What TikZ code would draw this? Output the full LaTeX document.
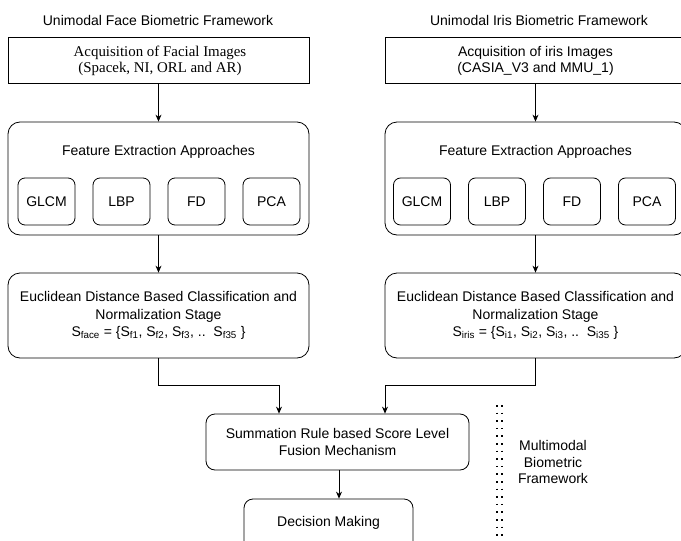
\documentclass[tikz,border=0pt]{standalone}
\usepackage{fontspec}
\setmainfont{Liberation Sans}
\newfontfamily\seriffont{Liberation Serif}
\usetikzlibrary{arrows.meta}
\begin{document}
\begin{tikzpicture}[x=1pt,y=-1pt,
  every node/.style={font=\fontsize{14}{16.5}\selectfont, inner sep=0pt},
  box/.style={draw, line width=0.8pt, rectangle},
  rbox/.style={draw, line width=0.8pt, rounded corners=12pt},
  sbox/.style={draw, line width=0.8pt, rounded corners=7pt, minimum width=57pt, minimum height=47pt},
  lbl/.style={align=center},
  arr/.style={line width=0.8pt, -{Stealth[length=7pt,width=6pt]}},
  dots/.style={line width=1.5pt, dash pattern=on 1.6pt off 6pt}
]
\useasboundingbox (0,0) rectangle (681,541);

% titles
\node[lbl] (ftitle) at (158,20) {Unimodal Face Biometric Framework};
\node[lbl] (ititle) at (539,20) {Unimodal Iris Biometric Framework};

% face column
\node[box, minimum width=301pt, minimum height=46pt] (facq) at (158.5,60) {};
\node[lbl, font=\seriffont\fontsize{14.9}{16}\selectfont] (facqt) at (160,61) {Acquisition of Facial Images\\(Spacek, NI, ORL and AR)};
\node[rbox, minimum width=301pt, minimum height=113pt] (ffeat) at (158.5,178.5) {};
\node[lbl] (ffeatt) at (158.5,152) {Feature Extraction Approaches};
\node[sbox] (fg) at (46.5,201.5) {GLCM};
\node[sbox] (fl) at (121.5,201.5) {LBP};
\node[sbox] (ff) at (196.5,201.5) {FD};
\node[sbox] (fp) at (271.5,201.5) {PCA};
\node[rbox, minimum width=301pt, minimum height=85pt] (feuc) at (158.5,315.5) {};
\node[lbl, font=\fontsize{14}{17.5}\selectfont] (feuct) at (158.5,315.5) {Euclidean Distance Based Classification and\\Normalization Stage\\S\textsubscript{face} = \{S\textsubscript{f1}, S\textsubscript{f2}, S\textsubscript{f3}, ..\ \ S\textsubscript{f35} \}};

% iris column
\node[box, minimum width=301pt, minimum height=46pt] (iacq) at (535.5,60) {};
\node[lbl, font=\fontsize{14}{16.5}\selectfont] (iacqt) at (535.5,61) {Acquisition of iris Images\\(CASIA\_V3 and MMU\_1)};
\node[rbox, minimum width=301pt, minimum height=113pt] (ifeat) at (535.5,178.5) {};
\node[lbl] (ifeatt) at (535.5,152) {Feature Extraction Approaches};
\node[sbox] (ig) at (422,201.5) {GLCM};
\node[sbox] (il) at (497,201.5) {LBP};
\node[sbox] (if) at (572,201.5) {FD};
\node[sbox] (ip) at (647,201.5) {PCA};
\node[rbox, minimum width=301pt, minimum height=85pt] (ieuc) at (535.5,315.5) {};
\node[lbl, font=\fontsize{14}{17.5}\selectfont] (ieuct) at (535.5,315.5) {Euclidean Distance Based Classification and\\Normalization Stage\\S\textsubscript{iris} = \{S\textsubscript{i1}, S\textsubscript{i2}, S\textsubscript{i3}, ..\ \ S\textsubscript{i35} \}};

% fusion
\node[rbox, rounded corners=9pt, minimum width=263pt, minimum height=56pt, lbl, font=\fontsize{14}{16.5}\selectfont] (sum) at (337.5,442) {Summation Rule based Score Level\\Fusion Mechanism};
\node[rbox, rounded corners=9pt, minimum width=169pt, minimum height=60pt] (dec) at (328.5,529) {};
\node[lbl] (dect) at (328.5,523) {Decision Making};

% multimodal
\draw[dots] (497,405) -- (497,541);
\draw[dots] (502,405) -- (502,541);
\node[lbl, font=\fontsize{14}{16.5}\selectfont] (mm) at (553,462) {Multimodal\\Biometric\\Framework};

% connectors
\draw[arr] (facq.south) -- (ffeat.north);
\draw[arr] (ffeat.south) -- (feuc.north);
\draw[arr] (iacq.south) -- (ifeat.north);
\draw[arr] (ifeat.south) -- (ieuc.north);
\coordinate (fj) at (279,385);
\coordinate (ij) at (385,385);
\draw[arr] (feuc.south) |- (fj) -- (fj |- sum.north);
\draw[arr] (ieuc.south) |- (ij) -- (ij |- sum.north);
\draw[arr] ([xshift=1.5pt]sum.south) -- ([xshift=1.5pt]sum.south |- dec.north);
\end{tikzpicture}
\end{document}
